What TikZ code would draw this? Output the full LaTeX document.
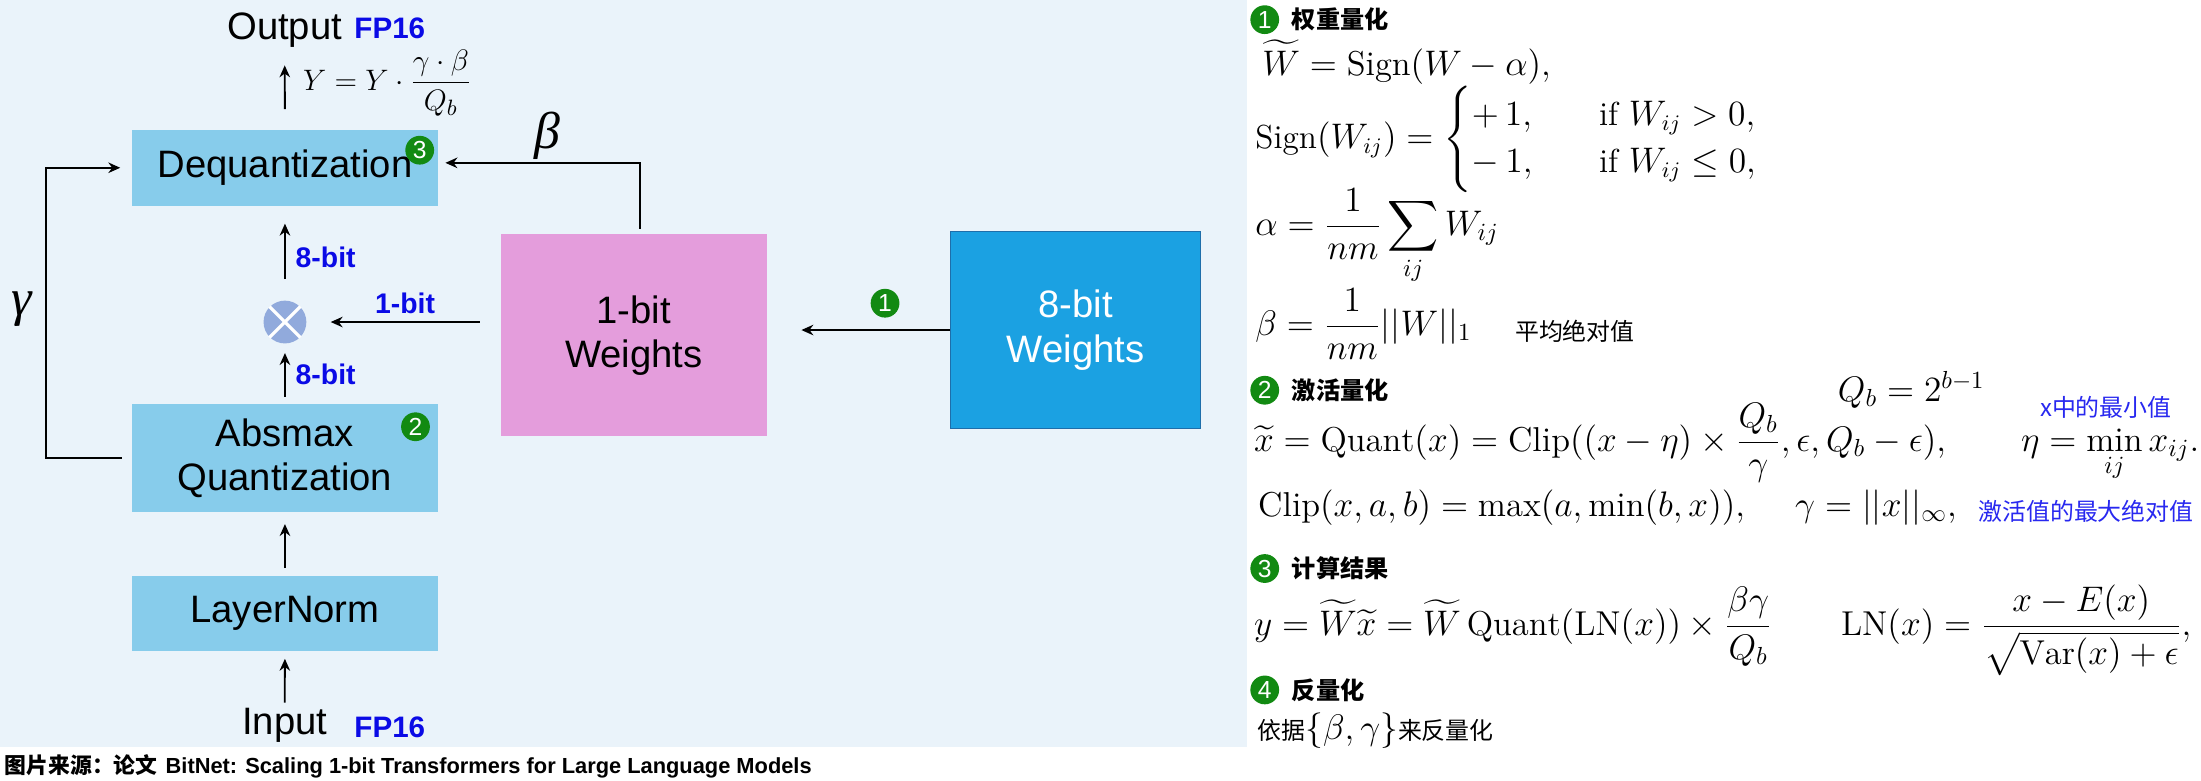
\documentclass[tikz,border=0pt]{standalone}
\usepackage{amsmath}
\usepackage{fontspec}
\newfontfamily\arial{Liberation Sans}
\newfontfamily\tnr{Liberation Serif}
\newfontfamily\cjk{Noto Sans CJK SC}
\usetikzlibrary{arrows.meta}
\definecolor{panelbg}{RGB}{234,243,250}
\definecolor{boxblue}{RGB}{135,204,235}
\definecolor{pinkw}{RGB}{228,157,220}
\definecolor{bluew}{RGB}{27,161,226}
\definecolor{bluewedge}{RGB}{30,110,170}
\definecolor{mulblue}{RGB}{145,170,220}
\definecolor{numgreen}{RGB}{18,138,18}
\definecolor{bitblue}{RGB}{10,10,230}
\definecolor{bluenote}{RGB}{40,40,240}
\tikzset{
  box/.style={fill=boxblue, minimum width=4.36cm, inner sep=0pt, align=center,
    font=\arial\fontsize{15.5}{18}\selectfont},
  wbox/.style={inner sep=0pt, align=center, font=\arial\fontsize{15.5}{18}\selectfont},
  lbl/.style={inner sep=0pt, font=\arial\fontsize{15.5}{18}\selectfont},
  fp/.style={inner sep=0pt, text=bitblue, font=\arial\bfseries\fontsize{12}{14}\selectfont},
  bitlabel/.style={inner sep=0pt, text=bitblue, font=\arial\bfseries\fontsize{11.5}{14}\selectfont},
  greek/.style={inner sep=0pt, font=\tnr\itshape\fontsize{21}{24}\selectfont},
  numdot/.style={circle, fill=numgreen, text=white, inner sep=0pt, minimum size=0.41cm,
    font=\arial\fontsize{10}{10}\selectfont},
  arr/.style={-{Stealth[length=1.7mm,width=1.5mm]}, line width=0.75pt},
  eq/.style={anchor=base west, inner sep=0pt, font=\fontsize{14}{17}\selectfont},
  note/.style={anchor=base west, inner sep=0pt, font=\cjk\fontsize{9.7}{12}\selectfont},
  head/.style={anchor=west, inner sep=0pt, font=\cjk\bfseries\fontsize{9.8}{12}\selectfont}
}
\begin{document}
\begin{tikzpicture}[x=0.02cm, y=-0.02cm]
  % background
  \fill[white] (0,0) rectangle (1568,556);
  \fill[panelbg] (0,0) rectangle (888,532);
  \useasboundingbox (0,0) rectangle (1568,556);

  % blocks
  \node[box, minimum height=1.08cm] (deq) at (203,119.5) {Dequantization};
  \node[box, minimum height=1.54cm] (absmax) at (203,326.5) {Absmax\\Quantization};
  \node[box, minimum height=1.08cm] (ln) at (203,437) {LayerNorm};
  \node[wbox, fill=pinkw, minimum width=3.8cm, minimum height=2.88cm] (w1) at (451.6,238.9) {1-bit\\Weights};
  \node[wbox, fill=bluew, draw=bluewedge, text=white, minimum width=3.57cm, minimum height=2.82cm] (w8) at (766.3,235.1) {8-bit\\Weights};
  \node[circle, fill=mulblue, minimum size=0.61cm, inner sep=0pt] (mul) at (203,229.4) {};
  \draw[white, line width=1.3pt] (mul.45) -- (mul.225) (mul.135) -- (mul.315);

  % texts
  \node[lbl] (out) at (202.8,21.4) {Output};
  \node[fp] (outfp) at (277.7,20.2) {FP16};
  \node[lbl] (in) at (202.8,516.5) {Input};
  \node[fp] (infp) at (277.7,518) {FP16};
  \node[font=\fontsize{12.5}{15}\selectfont, inner sep=0pt] (yq) at (276,59) {$Y = Y\cdot\dfrac{\gamma\cdot\beta}{Q_b}$};
  \node[greek] (gam) at (15.5,220) {γ};
  \node[greek] (bet) at (390,97) {β};
  \node[bitlabel] (b8u) at (232,183) {8-bit};
  \node[bitlabel] (b8d) at (232,267) {8-bit};
  \node[bitlabel] (b1) at (288.6,216) {1-bit};
  \node[numdot] (d3) at (299,107) {3};
  \node[numdot] (d2) at (296,304) {2};
  \node[numdot] (d1) at (630.5,216) {1};

  % connectors
  \draw[arr, shorten <=0.29cm, shorten >=0.25cm] (deq.north) -- (out.south);
  \draw[arr, shorten <=0.3cm, shorten >=0.25cm] (mul.north) -- (deq.south);
  \draw[arr, shorten <=0.1cm, shorten >=0.13cm] (absmax.north) -- (mul.south);
  \draw[arr, shorten <=0.1cm, shorten >=0.16cm] (ln.north) -- (absmax.south);
  \draw[arr, shorten <=0.07cm, shorten >=0.1cm] (in.north) -- (ln.south);
  \draw[arr, shorten <=0.29cm, shorten >=0.34cm] (w1.west |- mul) -- (mul.east);
  \draw[arr, shorten >=0.48cm] (w8.west) -- (w8.west -| w1.east);
  \draw[arr, shorten <=0.14cm, shorten >=0.16cm] (absmax.west) -- ++(-60.6,0) |- (deq.west);
  \draw[arr, shorten <=0.07cm, shorten >=0.1cm] ([xshift=0.09cm]w1.north) |- ([yshift=0.07cm]deq.east);

  % formulas
  \foreach \n/\y/\t in {1/14/权重量化, 2/278/激活量化, 3/405/计算结果, 4/491.5/反量化}{
    \node[numdot] (r\n) at (901,\y) {\n};
    \node[head] (h\n) at (920,\y) {\t};
  }
  \node[eq] (e1) at (899,53.5) {$\widetilde{W} = \mathrm{Sign}(W - \alpha),$};
  \node[eq, font=\fontsize{13.5}{16}\selectfont] (e2) at (894,105.7) {$\mathrm{Sign}(W_{ij}) = \begin{cases} +\,1, & \quad\text{if } W_{ij} > 0,\\ -\,1, & \quad\text{if } W_{ij} \le 0,\end{cases}$};
  \node[eq] (e3) at (894,167.5) {$\displaystyle \alpha = \frac{1}{nm}\sum_{ij} W_{ij}$};
  \node[eq] (e4) at (894,239) {$\displaystyle \beta = \frac{1}{nm}||W||_1$};
  \node[note] (t4) at (1079,242.5) {平均绝对值};
  \node[eq] (qb) at (1309,286) {$Q_b = 2^{b-1}$};
  \node[note, text=bluenote] (t5) at (1453,296.5) {x中的最小值};
  \node[eq] (e5) at (893,321.7) {$\displaystyle \widetilde{x} = \mathrm{Quant}(x) = \mathrm{Clip}((x-\eta)\times\frac{Q_b}{\gamma},\epsilon,Q_b-\epsilon), \qquad \eta = \min_{ij} x_{ij}.$};
  \node[eq] (e6) at (896,368) {$\mathrm{Clip}(x,a,b) = \max(a,\min(b,x)), \quad\; \gamma = ||x||_\infty,$};
  \node[note, text=bluenote] (t6) at (1409,371) {激活值的最大绝对值};
  \node[eq] (e7) at (893,452.5) {$\displaystyle y = \widetilde{W}\widetilde{x} = \widetilde{W}\,\mathrm{Quant}(\mathrm{LN}(x)) \times \frac{\beta\gamma}{Q_b} \qquad \mathrm{LN}(x) = \frac{x-E(x)}{\sqrt{\mathrm{Var}(x)+\epsilon}},$};
  \node[note] (e8) at (895.5,526.5) {依据{\fontsize{14}{17}\selectfont$\{\beta,\gamma\}$}来反量化};

  % source
  \node[anchor=west, inner sep=0pt] (cap) at (3,546) {{\cjk\bfseries\fontsize{8.85}{10}\selectfont 图片来源：论文} {\arial\bfseries\fontsize{8.85}{10}\selectfont BitNet: Scaling 1-bit Transformers for Large Language Models}};
\end{tikzpicture}
\end{document}
